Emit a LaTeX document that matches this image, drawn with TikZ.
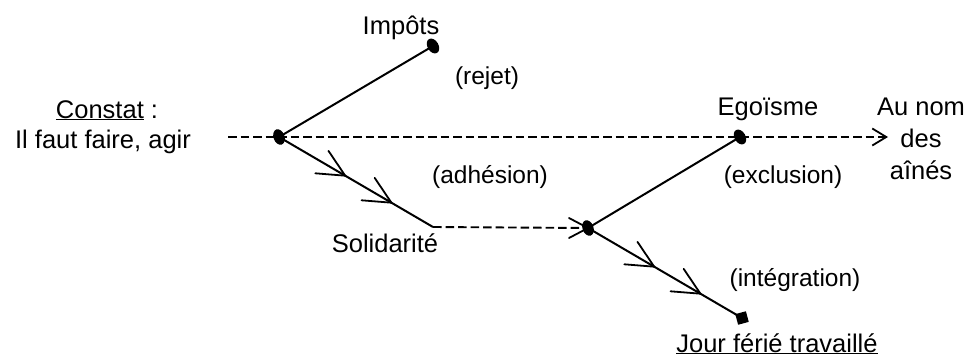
\documentclass[tikz,border=0pt]{standalone}
\usepackage{fontspec}
\setmainfont{Liberation Sans}
\newfontfamily\comicfont{Liberation Sans}
\usetikzlibrary{arrows.meta,decorations.markings,shapes.geometric,calc}
\tikzset{
  every node/.style={inner sep=0pt, outer sep=0pt},
  lbl/.style={font=\fontsize{25.5}{31}\selectfont, align=center, anchor=base},
  clbl/.style={font=\comicfont\fontsize{24.5}{28}\selectfont, anchor=center},
  dotnode/.style={ellipse, fill=black, minimum width=11pt, minimum height=16pt},
  sqnode/.style={rectangle, fill=black, minimum size=11pt, rotate=15},
  solidline/.style={line width=2pt},
  dashline/.style={line width=1.9pt, dash pattern=on 8.5pt off 4pt},
  chevmark/.style={postaction={decorate}, decoration={markings,
     mark=at position 0.43 with {\draw[line width=1.8pt, line cap=round] (-27pt,13pt) -- (0,0) -- (-27pt,-13pt);},
     mark=at position 0.73 with {\draw[line width=1.8pt, line cap=round] (-27pt,13pt) -- (0,0) -- (-27pt,-13pt);}}},
  opentip/.style={-{Straight Barb[length=14pt, width=17pt, line width=1.8pt]}},
}
\begin{document}
\begin{tikzpicture}[x=1pt,y=-1pt]
\useasboundingbox (0,0) rectangle (973,361);
% points
\coordinate (d0) at (228,137);
\coordinate (d1) at (888,137);
\node[dotnode, rotate=20] (A) at (279,137) {};
\node[dotnode, rotate=30] (I) at (433,46) {};
\coordinate (S) at (433,227);
\node[dotnode, rotate=20] (B) at (588,228) {};
\node[dotnode, rotate=30] (E) at (740,137) {};
\node[sqnode] (J) at (742,318) {};
\coordinate (Bu) at ($(B.center)+(-19,-10)$);
\coordinate (Bd) at ($(B.center)+(-19,10)$);
% lines
\draw[dashline, opentip] (d0) -- (d1);
\draw[solidline] (A.center) -- (I.center);
\draw[solidline, chevmark] (A.center) -- (S);
\draw[dashline] (S) -- (B.center);
\draw[line width=1.8pt, line cap=round] (Bu) -- (B.center) -- (Bd);
\draw[solidline] (B.center) -- (E.center);
\draw[solidline, chevmark] (B.center) -- (J.center);
% labels
\node[lbl] (tI) at (401,35) {Impôts};
\node[lbl] (tC) at (107,118) {\underline{Constat} :};
\node[lbl] (tF) at (103,148) {Il faut faire, agir};
\node[lbl] (tS) at (385,252) {Solidarité};
\node[lbl] (tE) at (768,115) {Egoïsme};
\node[lbl] (tAu) at (921,115) {Au nom};
\node[lbl] (tDes) at (921,147) {des};
\node[lbl] (tAi) at (921,179) {aînés};
\node[lbl] (tJ) at (777,352) {\underline{Jour férié travaillé}};
\node[clbl] (cR) at (487,78) {(rejet)};
\node[clbl] (cA) at (490,177) {(adhésion)};
\node[clbl] (cE) at (783,177) {(exclusion)};
\node[clbl] (cI) at (795,280) {(intégration)};
\end{tikzpicture}
\end{document}
